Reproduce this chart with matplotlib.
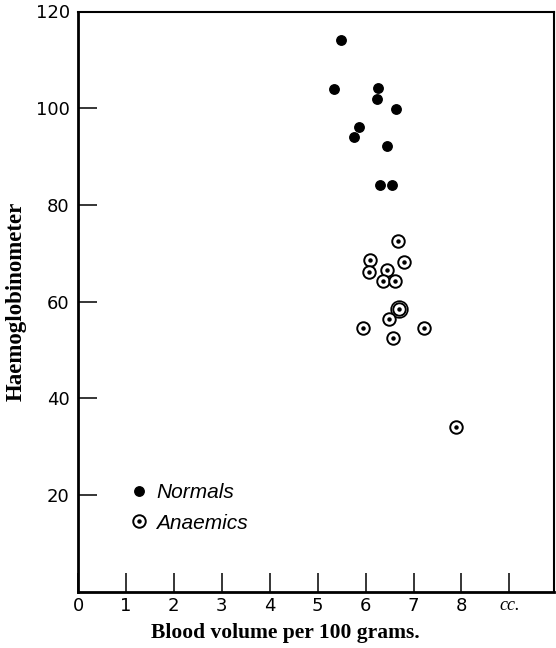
import matplotlib
matplotlib.use("Agg")
import matplotlib.pyplot as plt
from matplotlib.lines import Line2D
from matplotlib.legend_handler import HandlerTuple

# normals (filled dots)
normal_x = [5.48, 5.35, 6.26, 6.24, 6.63, 5.87, 5.76, 6.44, 6.29, 6.55]
normal_y = [114.2, 103.9, 104.2, 102.0, 99.8, 96.2, 94.0, 92.2, 84.2, 84.2]

# anaemics (ringed dots)
anaemic_x = [6.68, 6.09, 6.80, 6.08, 6.44, 6.37, 6.61, 6.70, 6.48, 5.95, 7.22, 6.58, 7.88]
anaemic_y = [72.5, 68.7, 68.2, 66.2, 66.5, 64.3, 64.3, 58.5, 56.4, 54.6, 54.6, 52.4, 34.0]

# the one anaemic point drawn with an extra outer ring
double_x = [6.70]
double_y = [58.5]

x_ticks = [0, 1, 2, 3, 4, 5, 6, 7, 8, 9]
x_tick_labels = ["0", "1", "2", "3", "4", "5", "6", "7", "8", "cc."]
y_ticks = [20, 40, 60, 80, 100, 120]

fig = plt.figure(figsize=(5.56, 6.48), dpi=100)
ax = fig.add_axes([78 / 556, 56.3 / 648, 476 / 556, 580.2 / 648])

ax.plot(normal_x, normal_y, "o", ms=6.8, color="black", mec="black")
ax.plot(double_x, double_y, "o", ms=12.0, mfc="white", mec="black", mew=1.2)
ax.plot(anaemic_x, anaemic_y, "o", ms=9.0, mfc="white", mec="black", mew=1.4)
ax.plot(anaemic_x, anaemic_y, "o", ms=2.2, color="black")

ax.set_xlim(0, 9.93)
ax.set_ylim(0, 120)

ax.set_xticks(x_ticks)
ax.set_xticklabels(x_tick_labels)
ax.set_yticks(y_ticks)
for lab in ax.get_xticklabels():
    if lab.get_text() == "cc.":
        lab.set_fontfamily("Liberation Serif")
        lab.set_fontstyle("italic")
        lab.set_fontsize(12.5)

ax.tick_params(direction="in", length=14, width=1.1, labelsize=13, pad=6, color="black")
ax.tick_params(axis="x", pad=4)

for side in ["left", "bottom"]:
    ax.spines[side].set_linewidth(2.0)
for side in ["top", "right"]:
    ax.spines[side].set_linewidth(1.5)

ax.set_xlabel("Blood volume per 100 grams.", family="Liberation Serif",
              fontweight="bold", fontsize=15.5)
ax.xaxis.set_label_coords(0.435, -0.054)
ax.set_ylabel("Haemoglobinometer", family="Liberation Serif",
              fontweight="bold", fontsize=16.5, labelpad=6.5)

h_norm = Line2D([], [], ls="", marker="o", ms=6.8, color="black")
h_ring = Line2D([], [], ls="", marker="o", ms=9.0, mfc="white", mec="black", mew=1.4)
h_dot = Line2D([], [], ls="", marker="o", ms=2.2, color="black")
ax.legend([h_norm, (h_ring, h_dot)], ["Normals", "Anaemics"],
          handler_map={tuple: HandlerTuple(ndivide=1, pad=0)},
          loc="upper left", bbox_to_anchor=(0.11, 0.187), borderaxespad=0,
          borderpad=0, frameon=False, handlelength=0.8, handletextpad=0.45,
          labelspacing=0.55, prop={"family": "Liberation Sans", "style": "italic", "size": 15})

fig.savefig("out.png", dpi=100)
